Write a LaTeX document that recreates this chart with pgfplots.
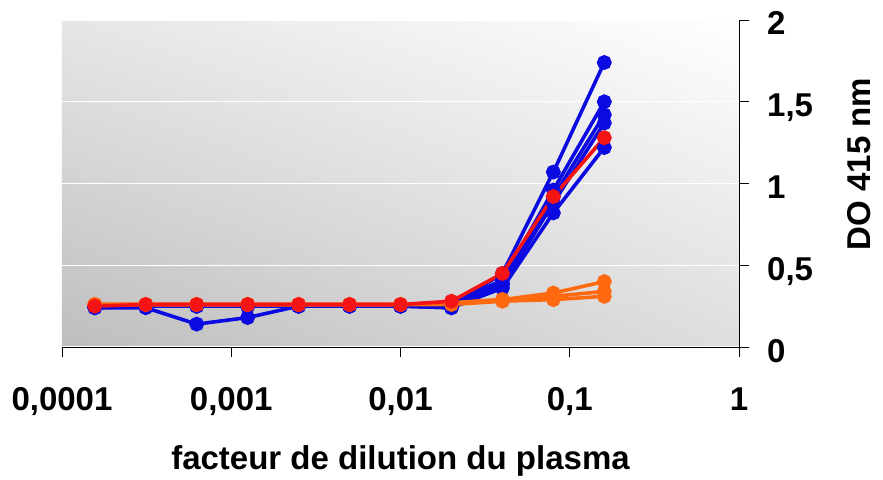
\documentclass[border=0pt]{standalone}
\usepackage{pgfplots}
\pgfplotsset{compat=1.18}
\usetikzlibrary{shadings}
\usepackage{fontspec}
\setmainfont{Liberation Sans}
\definecolor{cblue}{RGB}{10,10,225}
\definecolor{cred}{RGB}{245,20,20}
\definecolor{corange}{RGB}{255,105,15}
\definecolor{bgll}{RGB}{190,190,190}
\definecolor{bgul}{RGB}{230,230,230}
\definecolor{bglr}{RGB}{222,222,222}
\definecolor{bgur}{RGB}{255,255,255}
\begin{document}
\begin{tikzpicture}
\useasboundingbox (-62pt,-132pt) rectangle (821pt,347pt);
\begin{axis}[
  at={(0pt,0pt)}, anchor=south west,
  scale only axis, width=677pt, height=327pt,
  xmode=log, xmin=1e-4, xmax=1, ymin=0, ymax=2,
  axis x line*=bottom, axis y line*=right,
  axis line style={black, line width=1pt},
  xtick={1e-4,1e-3,1e-2,1e-1,1},
  xticklabels={{0,0001},{0,001},{0,01},{0,1},1},
  xminorticks=false,
  ytick={0,0.5,1,1.5,2},
  yticklabels={0,{0,5},1,{1,5},2},
  tick align=outside, major tick length=10pt,
  tick style={black, line width=0.8pt},
  ymajorgrids, grid style={white, line width=1.2pt},
  axis background/.style={shade, lower left=bgll, upper left=bgul, lower right=bglr, upper right=bgur},
  every tick label/.append style={font=\fontsize{33}{38}\selectfont\bfseries},
  xticklabel style={anchor=base, inner sep=0pt, yshift=-53pt},
  yticklabel style={anchor=base west, inner sep=0pt, xshift=18pt, yshift=-15pt},
  every axis x label/.style={at={(axis description cs:0.5,-0.376)}, anchor=base, font=\fontsize{33}{38}\selectfont\bfseries},
  every axis y label/.style={at={(axis description cs:1.194,0.56)}, rotate=90, anchor=base, font=\fontsize{33}{38}\selectfont\bfseries},
  xlabel={facteur de dilution du plasma},
  ylabel={DO 415 nm},
  clip=false,
  every axis plot/.append style={line width=3.6pt, mark=*, mark size=5.6pt},
]
% blue series
\addplot[cblue, mark options={fill=cblue, draw=cblue}] coordinates {
 (0.00015625,0.24) (0.0003125,0.24) (0.000625,0.14) (0.00125,0.18) (0.0025,0.25) (0.005,0.25) (0.01,0.25) (0.02,0.25) (0.04,0.45) (0.08,1.07) (0.16,1.74)};
\addplot[cblue, mark options={fill=cblue, draw=cblue}] coordinates {
 (0.00015625,0.25) (0.0003125,0.25) (0.000625,0.25) (0.00125,0.25) (0.0025,0.25) (0.005,0.25) (0.01,0.25) (0.02,0.26) (0.04,0.41) (0.08,0.96) (0.16,1.50)};
\addplot[cblue, mark options={fill=cblue, draw=cblue}] coordinates {
 (0.00015625,0.25) (0.0003125,0.25) (0.000625,0.25) (0.00125,0.25) (0.0025,0.25) (0.005,0.25) (0.01,0.25) (0.02,0.25) (0.04,0.39) (0.08,0.92) (0.16,1.42)};
\addplot[cblue, mark options={fill=cblue, draw=cblue}] coordinates {
 (0.00015625,0.25) (0.0003125,0.25) (0.000625,0.25) (0.00125,0.25) (0.0025,0.25) (0.005,0.25) (0.01,0.25) (0.02,0.24) (0.04,0.38) (0.08,0.88) (0.16,1.37)};
\addplot[cblue, mark options={fill=cblue, draw=cblue}] coordinates {
 (0.00015625,0.24) (0.0003125,0.25) (0.000625,0.25) (0.00125,0.25) (0.0025,0.25) (0.005,0.25) (0.01,0.25) (0.02,0.24) (0.04,0.36) (0.08,0.82) (0.16,1.22)};
% orange series
\addplot[corange, mark options={fill=corange, draw=corange}] coordinates {
 (0.00015625,0.26) (0.0003125,0.26) (0.000625,0.26) (0.00125,0.26) (0.0025,0.26) (0.005,0.26) (0.01,0.26) (0.02,0.27) (0.04,0.29) (0.08,0.33) (0.16,0.40)};
\addplot[corange, mark options={fill=corange, draw=corange}] coordinates {
 (0.00015625,0.26) (0.0003125,0.26) (0.000625,0.26) (0.00125,0.26) (0.0025,0.26) (0.005,0.26) (0.01,0.26) (0.02,0.27) (0.04,0.29) (0.08,0.31) (0.16,0.34)};
\addplot[corange, mark options={fill=corange, draw=corange}] coordinates {
 (0.00015625,0.26) (0.0003125,0.26) (0.000625,0.26) (0.00125,0.26) (0.0025,0.26) (0.005,0.26) (0.01,0.26) (0.02,0.26) (0.04,0.28) (0.08,0.29) (0.16,0.31)};
% red series
\addplot[cred, mark options={fill=cred, draw=cred}] coordinates {
 (0.00015625,0.25) (0.0003125,0.26) (0.000625,0.26) (0.00125,0.26) (0.0025,0.26) (0.005,0.26) (0.01,0.26) (0.02,0.28) (0.04,0.45) (0.08,0.92) (0.16,1.28)};
\end{axis}
\end{tikzpicture}
\end{document}
